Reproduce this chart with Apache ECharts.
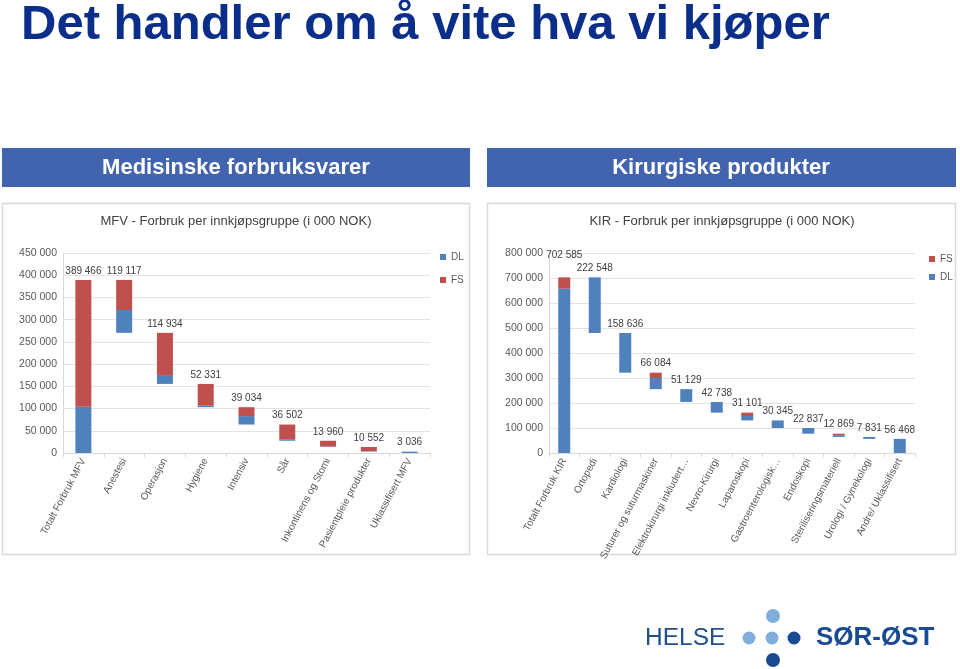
<!DOCTYPE html>
<html><head><meta charset="utf-8">
<script src="https://cdn.jsdelivr.net/npm/echarts@6/dist/echarts.min.js"></script>
<style>html,body{margin:0;padding:0;background:#fff}#c{width:960px;height:669px}</style>
</head><body><div id="c"></div>
<script>
// ---- Data (values in 000 NOK) ----
const mfvCategories = ['Totalt Forbruk MFV','Anestesi','Operasjon','Hygiene','Intensiv','Sår','Inkontinens og Stomi','Pasientpleie produkter','Uklassifisert MFV'];
const mfvTotals = [389466,119117,114934,52331,39034,36502,13960,10552,3036];
const mfvDL = [104000,51400,20000,3300,19000,3500,1200,800,3036];
const mfvFS = [285466,67717,94934,49031,20034,33002,12760,9752,0];

const kirCategories = ['Totalt Forbruk KIR','Ortopedi','Kardiologi','Suturer og suturmaskiner','Elektrokirurgi inkludert…','Nevro-Kirurgi','Laparoskopi','Gastroenterologisk…','Endoskopi','Steriliseringsmateriell','Urologi / Gynekologi','Andre/ Uklassifisert'];
const kirTotals = [702585,222548,158636,66084,51129,42738,31101,30345,22837,12869,7831,56468];
const kirDL = [657600,222548,158636,44700,51129,42738,17650,30345,22837,6869,7831,56468];
const kirFS = [44985,0,0,21384,0,0,13451,0,0,6000,0,0];

const mfvTicks = [0,50000,100000,150000,200000,250000,300000,350000,400000,450000];
const kirTicks = [0,100000,200000,300000,400000,500000,600000,700000,800000];

// ---- helpers ----
function waterfallBase(totals){
  const base = []; let running = 0;
  totals.forEach((t,i)=>{
    if(i===0){ base.push(0); running = t; }
    else { running -= t; base.push(Math.max(0,running)); }
  });
  return base;
}
function fmt(v){
  const s = Math.round(v).toString();
  return s.replace(/\B(?=(\d{3})+(?!\d))/g,' ');
}
const BLUE = '#4F81BD', RED = '#C0504D';
const FONT = '"Liberation Sans", Arial, sans-serif';

function xAxis(grid, cats){
  return {type:'category', gridIndex:grid, data:cats,
    axisLine:{lineStyle:{color:'#d9d9d9'}},
    axisTick:{show:true, alignWithLabel:false, length:4, lineStyle:{color:'#d9d9d9'}},
    axisLabel:{interval:0, rotate:62, fontSize:10, color:'#595959', fontFamily:FONT, margin:6}
  };
}
function yAxis(grid, ticks){
  return {type:'value', gridIndex:grid, min:ticks[0], max:ticks[ticks.length-1], interval:ticks[1]-ticks[0],
    axisLine:{show:true, lineStyle:{color:'#d9d9d9'}}, axisTick:{show:false},
    splitLine:{lineStyle:{color:'#e3e3e3'}},
    axisLabel:{fontSize:10.5, color:'#595959', fontFamily:FONT, margin:6, formatter:v=>fmt(v)}
  };
}
function series(idx, totals, dl, fs, barW, firstOffset){
  const base = waterfallBase(totals);
  const stack = 's'+idx;
  return [
    {name:'base', type:'bar', xAxisIndex:idx, yAxisIndex:idx, stack, data:base, barWidth:barW,
      itemStyle:{color:'transparent'}, emphasis:{disabled:true}, silent:true},
    {name:'DL', type:'bar', xAxisIndex:idx, yAxisIndex:idx, stack, data:dl, barWidth:barW,
      itemStyle:{color:BLUE}},
    {name:'FS', type:'bar', xAxisIndex:idx, yAxisIndex:idx, stack, barWidth:barW,
      itemStyle:{color:RED},
      data: fs.map((v,i)=> i===0 && firstOffset ? {value:v, label:{offset:[0,firstOffset]}} : v),
      label:{show:true, position:'top', distance:4, fontSize:10, color:'#404040', fontFamily:FONT,
        formatter:p=>fmt(totals[p.dataIndex])}}
  ];
}

const chart = echarts.init(document.getElementById('c'), null, {renderer:'canvas'});
const option = {
  animation:false,
  textStyle:{fontFamily:FONT},
  graphic:[
    {type:'text', x:21, y:25, style:{text:'Det handler om å vite hva vi kjøper', fill:'#0B2E8A', font:'bold 49px '+FONT, textVerticalAlign:'middle'}},
    {type:'rect', shape:{x:2,y:148,width:468,height:39}, style:{fill:'#4264AE'}},
    {type:'rect', shape:{x:487,y:148,width:469,height:39}, style:{fill:'#4264AE'}},
    {type:'text', x:236, y:168, style:{text:'Medisinske forbruksvarer', fill:'#fff', font:'bold 22px '+FONT, textAlign:'center', textVerticalAlign:'middle'}},
    {type:'text', x:721, y:168, style:{text:'Kirurgiske produkter', fill:'#fff', font:'bold 22px '+FONT, textAlign:'center', textVerticalAlign:'middle'}},
    {type:'rect', z:-10, shape:{x:2.5,y:203.5,width:467,height:351}, style:{fill:'#fff', stroke:'#d9d9d9', lineWidth:1.5}},
    {type:'rect', z:-10, shape:{x:487.5,y:203.5,width:468,height:351}, style:{fill:'#fff', stroke:'#d9d9d9', lineWidth:1.5}},
    {type:'text', x:236, y:221, style:{text:'MFV - Forbruk per innkjøpsgruppe (i 000 NOK)', fill:'#404040', font:'13px '+FONT, textAlign:'center', textVerticalAlign:'middle'}},
    {type:'text', x:722, y:221, style:{text:'KIR - Forbruk per innkjøpsgruppe (i 000 NOK)', fill:'#404040', font:'13px '+FONT, textAlign:'center', textVerticalAlign:'middle'}},
    // logo
    {type:'text', x:645, y:638, style:{text:'HELSE', fill:'#1F4E8C', font:'24.5px '+FONT, textVerticalAlign:'middle'}},
    {type:'circle', shape:{cx:773,cy:616,r:7}, style:{fill:'#7FAEDC'}},
    {type:'circle', shape:{cx:749,cy:638,r:6.5}, style:{fill:'#7FAEDC'}},
    {type:'circle', shape:{cx:772,cy:638,r:6.5}, style:{fill:'#7FAEDC'}},
    {type:'circle', shape:{cx:794,cy:638,r:6.5}, style:{fill:'#1A4B92'}},
    {type:'circle', shape:{cx:773,cy:660,r:7}, style:{fill:'#1A4B92'}},
    {type:'text', x:816, y:638, style:{text:'SØR-ØST', fill:'#1A4B92', font:'bold 26px '+FONT, textVerticalAlign:'middle'}}
  ],
  grid:[
    {left:63, top:253, width:367, height:200},
    {left:549, top:253, width:366, height:200}
  ],
  legend:[
    {data:['DL','FS'], orient:'vertical', left:435, top:247, itemWidth:6, itemHeight:6, itemGap:13, icon:'rect',
      textStyle:{fontSize:10, color:'#595959'}},
    {data:['FS','DL'], orient:'vertical', left:924, top:249, itemWidth:6, itemHeight:6, itemGap:8, icon:'rect',
      textStyle:{fontSize:10, color:'#595959'}}
  ],
  xAxis:[xAxis(0, mfvCategories), xAxis(1, kirCategories)],
  yAxis:[yAxis(0, mfvTicks), yAxis(1, kirTicks)],
  series:[...series(0, mfvTotals, mfvDL, mfvFS, 16, 0), ...series(1, kirTotals, kirDL, kirFS, 12, -13)]
};
chart.setOption(option);
</script></body></html>
